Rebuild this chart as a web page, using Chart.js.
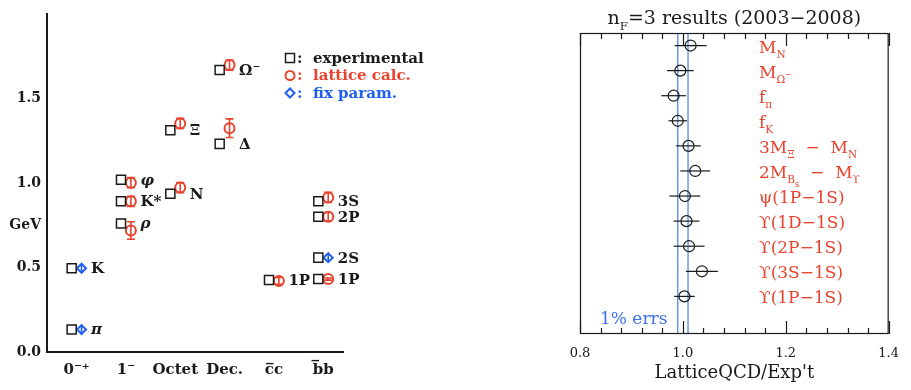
<!DOCTYPE html>
<html>
<head>
<meta charset="utf-8">
<script src="https://cdn.jsdelivr.net/npm/chart.js@4.4.0/dist/chart.umd.min.js"></script>
<style>
  html, body { margin: 0; padding: 0; background: #fff; }
  #massChart { position: absolute; left: 0; top: 0; }
  #ratioChart { position: absolute; left: 540px; top: 0; }
</style>
</head>
<body>
<canvas id="massChart" width="460" height="390"></canvas>
<canvas id="ratioChart" width="371" height="390"></canvas>
<script>
// ---- left panel: hadron spectrum (GeV) ----
const categories = ['0⁻⁺', '1⁻', 'Octet', 'Dec.', 'c̅c', 'b̅b'];
const stateNames = ['π', 'K', 'ρ', 'K*', 'φ', 'N', 'Ξ', 'Δ', 'Ω⁻', '1P', '3S', '2P', '2S', '1P'];
const stateCategory = [0, 0, 1, 1, 1, 2, 2, 3, 3, 4, 5, 5, 5, 5];
const experimentalMass = [0.133, 0.496, 0.761, 0.893, 1.020, 0.938, 1.314, 1.233, 1.671, 0.427, 0.893, 0.801, 0.559, 0.432];
const latticeMass = [null, null, 0.720, 0.893, 1.003, 0.974, 1.354, 1.326, 1.700, 0.421, 0.916, 0.801, null, 0.432];
const latticeError = [null, null, 0.052, 0.030, 0.030, 0.030, 0.030, 0.055, 0.030, 0.020, 0.030, 0.025, null, 0.006];
const fixedMass = [0.133, 0.496, null, null, null, null, null, null, null, null, null, null, 0.559, null];
const fixedError = [0.02, 0.02, null, null, null, null, null, null, null, null, null, null, 0.02, null];
const yTickValues = [0, 0.5, 0.75, 1.0, 1.5];
const yTickLabels = ['0.0', '0.5', 'GeV', '1.0', '1.5'];
const legendLabels = ['experimental', 'lattice calc.', 'fix param.'];

// ---- right panel: ratio lattice / experiment ----
const quantities = [
    [['M'], ['N', 'sub']],
    [['M'], ['Ω', 'sub'], ['−', 'subsup']],
    [['f'], ['π', 'sub']],
    [['f'], ['K', 'sub']],
    [['3M'], ['Ξ', 'sub'], ['  −  M'], ['N', 'sub']],
    [['2M'], ['B', 'sub'], ['s', 'subsub'], ['  −  M'], ['ϒ', 'sub']],
    [['ψ(1P−1S)']],
    [['ϒ(1D−1S)']],
    [['ϒ(2P−1S)']],
    [['ϒ(3S−1S)']],
    [['ϒ(1P−1S)']]
];
const ratios = [1.015, 0.995, 0.982, 0.990, 1.011, 1.024, 1.004, 1.007, 1.012, 1.037, 1.003];
const ratioErrors = [0.031, 0.026, 0.024, 0.018, 0.024, 0.029, 0.030, 0.025, 0.030, 0.031, 0.020];
const ratioTicks = [0.8, 1.0, 1.2, 1.4];
const minorTicks = [0.84, 0.88, 0.92, 0.96, 1.04, 1.08, 1.12, 1.16, 1.24, 1.28, 1.32, 1.36];
const bandEdges = [0.99, 1.01];
const titleParts = [['n'], ['F', 'sub'], ['=3 results (2003−2008)']];

const RED = '#e8432d';
const BLUE = '#1f5ff0';
const INK = '#1a1a1a';
const SERIF = '"DejaVu Serif"';

// draws text made of pieces with sub/superscripts, returns width
const levels = {
    sub: [0.62, 0.30], sup: [0.62, -0.40],
    subsub: [0.5, 0.55], subsup: [0.5, -0.05]
};
function drawRich(ctx, parts, x, y, size, style, align) {
    const pieces = parts.map(([t, lv]) => {
        const [k, dy] = levels[lv] || [1, 0];
        const font = `${style} ${(size * k).toFixed(1)}px ${SERIF}`;
        ctx.font = font;
        return { t, font, dy: dy * size, w: ctx.measureText(t).width };
    });
    const total = pieces.reduce((s, p) => s + p.w, 0);
    let cx = align === 'center' ? x - total / 2 : x;
    ctx.textAlign = 'left';
    ctx.textBaseline = 'alphabetic';
    pieces.forEach(p => {
        ctx.font = p.font;
        ctx.fillText(p.t, cx, y + p.dy);
        cx += p.w;
    });
    return total;
}

const massDecor = {
    id: 'massDecor',
    beforeDatasetsDraw(chart) {
        const { ctx, scales: { x, y } } = chart;
        ctx.save();
        ctx.lineWidth = 1.6;
        stateCategory.forEach((c, i) => {
            [[latticeMass, latticeError, RED, 4], [fixedMass, fixedError, BLUE, 0]].forEach(([m, e, col, cap]) => {
                if (m[i] == null) return;
                const px = x.getPixelForValue(c + 0.1);
                const top = y.getPixelForValue(m[i] + e[i]);
                const bot = y.getPixelForValue(m[i] - e[i]);
                ctx.strokeStyle = col;
                ctx.beginPath();
                ctx.moveTo(px, top); ctx.lineTo(px, bot);
                if (cap) {
                    ctx.moveTo(px - cap, top); ctx.lineTo(px + cap, top);
                    ctx.moveTo(px - cap, bot); ctx.lineTo(px + cap, bot);
                }
                ctx.stroke();
            });
        });
        ctx.restore();
    },
    afterDatasetsDraw(chart) {
        const { ctx, chartArea: a, scales: { x, y } } = chart;
        ctx.save();
        ctx.fillStyle = INK;
        ctx.textAlign = 'left';
        ctx.textBaseline = 'middle';
        stateNames.forEach((name, i) => {
            const greek = /[πρφ]/.test(name);
            ctx.font = `${greek ? 'italic ' : ''}bold 15px ${SERIF}`;
            ctx.fillText(name, x.getPixelForValue(stateCategory[i]) + 14.5, y.getPixelForValue(experimentalMass[i]) + 1);
        });

        // legend
        const lx = a.right - 53;
        const colors = [INK, RED, BLUE];
        legendLabels.forEach((lab, i) => {
            const ly = 58 + i * 17.5;
            ctx.strokeStyle = colors[i];
            ctx.fillStyle = colors[i];
            ctx.lineWidth = i ? 2 : 1.5;
            ctx.beginPath();
            if (i === 0) ctx.rect(lx - 4.5, ly - 4.5, 9, 9);
            else if (i === 1) ctx.arc(lx, ly, 4.5, 0, Math.PI * 2);
            else { ctx.moveTo(lx - 4.5, ly); ctx.lineTo(lx, ly - 4.5); ctx.lineTo(lx + 4.5, ly); ctx.lineTo(lx, ly + 4.5); ctx.closePath(); }
            ctx.stroke();
            ctx.font = `bold 15px ${SERIF}`;
            ctx.fillText(':', lx + 7, ly + 1);
            ctx.fillText(lab, lx + 23, ly + 1);
        });
        ctx.restore();
    }
};

new Chart(document.getElementById('massChart'), {
    type: 'scatter',
    data: {
        datasets: [
            {
                label: 'experimental',
                data: stateCategory.map((c, i) => ({ x: c - 0.1, y: experimentalMass[i] })),
                pointStyle: 'rect',
                pointRadius: 6.4,
                borderColor: INK,
                borderWidth: 1.5,
                backgroundColor: 'rgba(0,0,0,0)'
            },
            {
                label: 'lattice calc.',
                data: stateCategory.map((c, i) => ({ x: c + 0.1, y: latticeMass[i] })).filter(p => p.y != null),
                pointStyle: 'circle',
                pointRadius: 5,
                borderColor: RED,
                borderWidth: 2,
                backgroundColor: 'rgba(0,0,0,0)'
            },
            {
                label: 'fix param.',
                data: stateCategory.map((c, i) => ({ x: c + 0.1, y: fixedMass[i] })).filter(p => p.y != null),
                pointStyle: 'rectRot',
                pointRadius: 4.5,
                borderColor: BLUE,
                borderWidth: 2,
                backgroundColor: 'rgba(0,0,0,0)'
            }
        ]
    },
    options: {
        responsive: false,
        animation: false,
        layout: { padding: { top: 5, right: 117, left: 0, bottom: 0 } },
        plugins: { legend: { display: false }, tooltip: { enabled: false } },
        scales: {
            x: {
                type: 'linear',
                min: -0.6,
                max: 5.4,
                grid: { display: false, drawTicks: false },
                border: { display: true, color: INK, width: 2 },
                afterBuildTicks: s => { s.ticks = categories.map((_, i) => ({ value: i })); },
                afterFit: s => { s.height = 38; },
                ticks: {
                    autoSkip: false,
                    maxRotation: 0,
                    padding: 9,
                    color: INK,
                    font: { family: 'DejaVu Serif', weight: 'bold', size: 15 },
                    callback: v => categories[v]
                }
            },
            y: {
                min: 0,
                max: 2.0,
                grid: { display: false, drawTicks: false },
                border: { display: true, color: INK, width: 2 },
                afterBuildTicks: s => { s.ticks = yTickValues.map(v => ({ value: v })); },
                afterFit: s => { s.width = 47; },
                ticks: {
                    autoSkip: false,
                    padding: 6,
                    color: INK,
                    font: { family: 'DejaVu Serif', weight: 'bold', size: 14 },
                    callback: (v, i) => yTickLabels[i]
                }
            }
        }
    },
    plugins: [massDecor]
});

const ratioDecor = {
    id: 'ratioDecor',
    beforeDatasetsDraw(chart) {
        const { ctx, chartArea: a, scales: { x, y } } = chart;
        ctx.save();
        ctx.strokeStyle = '#5b86e6';
        ctx.lineWidth = 1.3;
        bandEdges.forEach(v => {
            const px = x.getPixelForValue(v);
            ctx.beginPath(); ctx.moveTo(px, a.top); ctx.lineTo(px, a.bottom); ctx.stroke();
        });
        ctx.strokeStyle = INK;
        ctx.lineWidth = 1.2;
        ratios.forEach((r, i) => {
            const py = y.getPixelForValue(i);
            ctx.beginPath();
            ctx.moveTo(x.getPixelForValue(r - ratioErrors[i]), py);
            ctx.lineTo(x.getPixelForValue(r + ratioErrors[i]), py);
            ctx.stroke();
        });
        ctx.restore();
    },
    afterDraw(chart) {
        const { ctx, chartArea: a, scales: { x, y } } = chart;
        ctx.save();
        ctx.strokeStyle = INK;
        ctx.lineWidth = 1.2;
        ctx.strokeRect(a.left + 0.5, a.top + 0.5, a.right - a.left - 1, a.bottom - a.top - 1);
        // inward ticks on top and bottom
        const tick = (v, len) => {
            const px = Math.round(x.getPixelForValue(v)) + 0.5;
            ctx.beginPath();
            ctx.moveTo(px, a.top); ctx.lineTo(px, a.top + len);
            ctx.moveTo(px, a.bottom); ctx.lineTo(px, a.bottom - len);
            ctx.stroke();
        };
        ratioTicks.forEach(v => tick(v, 13));
        minorTicks.forEach(v => tick(v, 6));

        ctx.fillStyle = RED;
        quantities.forEach((parts, i) => {
            drawRich(ctx, parts, a.left + 179, y.getPixelForValue(i) + 7, 17, 'normal', 'left');
        });

        ctx.fillStyle = '#3d6fe6';
        drawRich(ctx, [['1% errs']], a.left + 20, y.getPixelForValue(11) + 3, 17, 'normal', 'left');

        ctx.fillStyle = INK;
        drawRich(ctx, titleParts, (a.left + a.right) / 2, 24, 19, 'normal', 'center');
        ctx.restore();
    }
};

new Chart(document.getElementById('ratioChart'), {
    type: 'scatter',
    data: {
        datasets: [{
            label: 'LatticeQCD/Exp\'t',
            data: ratios.map((r, i) => ({ x: r, y: i })),
            pointStyle: 'circle',
            pointRadius: 5.5,
            borderColor: INK,
            borderWidth: 1.2,
            backgroundColor: 'rgba(0,0,0,0)'
        }]
    },
    options: {
        responsive: false,
        animation: false,
        layout: { padding: { top: 33, right: 12, left: 40, bottom: 0 } },
        plugins: { legend: { display: false }, tooltip: { enabled: false } },
        scales: {
            x: {
                type: 'linear',
                min: 0.8,
                max: 1.4,
                grid: { display: false, drawTicks: false },
                border: { display: false },
                afterBuildTicks: s => { s.ticks = ratioTicks.map(v => ({ value: v })); },
                afterFit: s => { s.height = 56; },
                ticks: {
                    autoSkip: false,
                    maxRotation: 0,
                    padding: 12,
                    color: INK,
                    font: { family: 'DejaVu Serif', size: 13 },
                    callback: v => v.toFixed(1)
                },
                title: {
                    display: true,
                    text: 'LatticeQCD/Exp\'t',
                    color: INK,
                    font: { family: 'DejaVu Serif', size: 18 },
                    padding: { top: 0, bottom: 6 }
                }
            },
            y: {
                display: false,
                min: -0.5,
                max: 11.5,
                reverse: true
            }
        }
    },
    plugins: [ratioDecor]
});
</script>
</body>
</html>
